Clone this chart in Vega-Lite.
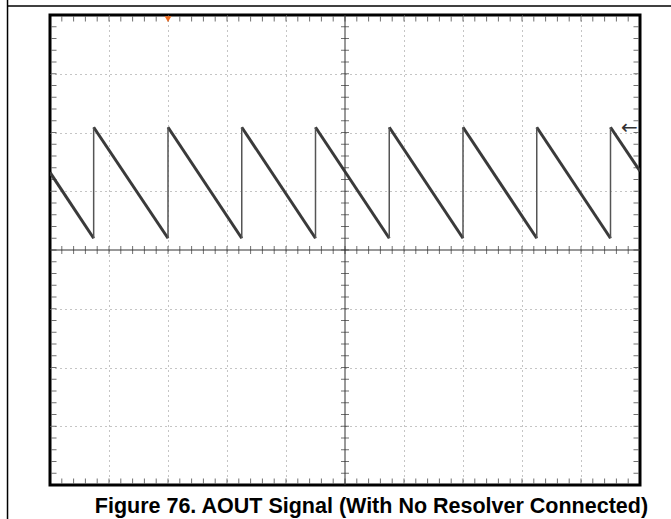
{
  "$schema": "https://vega.github.io/schema/vega-lite/v6.json",
  "width": 590,
  "height": 470,
  "autosize": {"type": "none"},
  "padding": {"left": 50, "top": 15, "right": 31, "bottom": 34},
  "background": "white",
  "view": {"stroke": "black", "strokeWidth": 3},
  "datasets": {
    "one": [{}],
    "caption": [{"label": "Figure 76. AOUT Signal (With No Resolver Connected)"}],
    "ramps": [
      {"seg": 0, "x": 0, "y": 1.32}, {"seg": 0, "x": 0.74, "y": 0.2},
      {"seg": 1, "x": 0.74, "y": 2.09}, {"seg": 1, "x": 2.0, "y": 0.2},
      {"seg": 2, "x": 2.0, "y": 2.09}, {"seg": 2, "x": 3.25, "y": 0.2},
      {"seg": 3, "x": 3.25, "y": 2.09}, {"seg": 3, "x": 4.5, "y": 0.2},
      {"seg": 4, "x": 4.5, "y": 2.09}, {"seg": 4, "x": 5.75, "y": 0.2},
      {"seg": 5, "x": 5.75, "y": 2.09}, {"seg": 5, "x": 7.0, "y": 0.2},
      {"seg": 6, "x": 7.0, "y": 2.09}, {"seg": 6, "x": 8.25, "y": 0.2},
      {"seg": 7, "x": 8.25, "y": 2.09}, {"seg": 7, "x": 9.5, "y": 0.2},
      {"seg": 8, "x": 9.5, "y": 2.09}, {"seg": 8, "x": 10, "y": 1.34}
    ],
    "edges": [
      {"x": 0.74, "lo": 0.2, "hi": 2.09}, {"x": 2.0, "lo": 0.2, "hi": 2.09},
      {"x": 3.25, "lo": 0.2, "hi": 2.09}, {"x": 4.5, "lo": 0.2, "hi": 2.09},
      {"x": 5.75, "lo": 0.2, "hi": 2.09}, {"x": 7.0, "lo": 0.2, "hi": 2.09},
      {"x": 8.25, "lo": 0.2, "hi": 2.09}, {"x": 9.5, "lo": 0.2, "hi": 2.09}
    ],
    "xt": [
      {"v": 0.2}, {"v": 0.4}, {"v": 0.6}, {"v": 0.8}, {"v": 1.0}, {"v": 1.2}, {"v": 1.4}, {"v": 1.6}, {"v": 1.8}, {"v": 2.0},
      {"v": 2.2}, {"v": 2.4}, {"v": 2.6}, {"v": 2.8}, {"v": 3.0}, {"v": 3.2}, {"v": 3.4}, {"v": 3.6}, {"v": 3.8}, {"v": 4.0},
      {"v": 4.2}, {"v": 4.4}, {"v": 4.6}, {"v": 4.8}, {"v": 5.0}, {"v": 5.2}, {"v": 5.4}, {"v": 5.6}, {"v": 5.8}, {"v": 6.0},
      {"v": 6.2}, {"v": 6.4}, {"v": 6.6}, {"v": 6.8}, {"v": 7.0}, {"v": 7.2}, {"v": 7.4}, {"v": 7.6}, {"v": 7.8}, {"v": 8.0},
      {"v": 8.2}, {"v": 8.4}, {"v": 8.6}, {"v": 8.8}, {"v": 9.0}, {"v": 9.2}, {"v": 9.4}, {"v": 9.6}, {"v": 9.8}
    ],
    "yt": [
      {"v": -3.8}, {"v": -3.6}, {"v": -3.4}, {"v": -3.2}, {"v": -3.0}, {"v": -2.8}, {"v": -2.6}, {"v": -2.4}, {"v": -2.2}, {"v": -2.0},
      {"v": -1.8}, {"v": -1.6}, {"v": -1.4}, {"v": -1.2}, {"v": -1.0}, {"v": -0.8}, {"v": -0.6}, {"v": -0.4}, {"v": -0.2}, {"v": 0.0},
      {"v": 0.2}, {"v": 0.4}, {"v": 0.6}, {"v": 0.8}, {"v": 1.0}, {"v": 1.2}, {"v": 1.4}, {"v": 1.6}, {"v": 1.8}, {"v": 2.0},
      {"v": 2.2}, {"v": 2.4}, {"v": 2.6}, {"v": 2.8}, {"v": 3.0}, {"v": 3.2}, {"v": 3.4}, {"v": 3.6}, {"v": 3.8}
    ]
  },
  "layer": [
    {
      "data": {"name": "ramps"},
      "mark": {"type": "line", "color": "#3a3a3a", "strokeWidth": 3, "clip": true},
      "encoding": {
        "x": {"field": "x", "type": "quantitative", "scale": {"domain": [0, 10], "nice": false, "zero": false},
          "axis": {"values": [1, 2, 3, 4, 6, 7, 8, 9], "grid": true, "gridDash": [1, 4], "gridColor": "#8a8a8a", "gridWidth": 1, "ticks": false, "labels": false, "domain": false, "title": null}},
        "y": {"field": "y", "type": "quantitative", "scale": {"domain": [-4, 4], "nice": false, "zero": false},
          "axis": {"values": [-3, -2, -1, 1, 2, 3], "grid": true, "gridDash": [1, 4], "gridColor": "#8a8a8a", "gridWidth": 1, "ticks": false, "labels": false, "domain": false, "title": null}},
        "detail": {"field": "seg"}
      }
    },
    {
      "data": {"name": "edges"},
      "mark": {"type": "rule", "color": "#555555", "strokeWidth": 1.5},
      "encoding": {
        "x": {"field": "x", "type": "quantitative", "scale": {"domain": [0, 10], "nice": false, "zero": false}},
        "y": {"field": "lo", "type": "quantitative", "scale": {"domain": [-4, 4], "nice": false, "zero": false}},
        "y2": {"field": "hi"}
      }
    },
    {
      "data": {"name": "one"},
      "mark": {"type": "rule", "color": "#333333", "strokeWidth": 1},
      "encoding": {"x": {"datum": 5, "type": "quantitative"}}
    },
    {
      "data": {"name": "one"},
      "mark": {"type": "rule", "color": "#333333", "strokeWidth": 1},
      "encoding": {"y": {"datum": 0, "type": "quantitative"}}
    },
    {
      "data": {"name": "xt"},
      "mark": {"type": "tick", "orient": "vertical", "color": "#333333", "thickness": 1, "size": 5},
      "encoding": {
        "x": {"field": "v", "type": "quantitative"},
        "y": {"datum": 3.93, "type": "quantitative"}
      }
    },
    {
      "data": {"name": "xt"},
      "mark": {"type": "tick", "orient": "vertical", "color": "#333333", "thickness": 1, "size": 5},
      "encoding": {
        "x": {"field": "v", "type": "quantitative"},
        "y": {"datum": -3.93, "type": "quantitative"}
      }
    },
    {
      "data": {"name": "xt"},
      "mark": {"type": "tick", "orient": "vertical", "color": "#333333", "thickness": 1, "size": 8},
      "encoding": {
        "x": {"field": "v", "type": "quantitative"},
        "y": {"datum": 0, "type": "quantitative"}
      }
    },
    {
      "data": {"name": "yt"},
      "mark": {"type": "tick", "orient": "horizontal", "color": "#333333", "thickness": 1, "size": 5},
      "encoding": {
        "y": {"field": "v", "type": "quantitative"},
        "x": {"datum": 0.068, "type": "quantitative"}
      }
    },
    {
      "data": {"name": "yt"},
      "mark": {"type": "tick", "orient": "horizontal", "color": "#333333", "thickness": 1, "size": 5},
      "encoding": {
        "y": {"field": "v", "type": "quantitative"},
        "x": {"datum": 9.932, "type": "quantitative"}
      }
    },
    {
      "data": {"name": "yt"},
      "mark": {"type": "tick", "orient": "horizontal", "color": "#333333", "thickness": 1, "size": 8},
      "encoding": {
        "y": {"field": "v", "type": "quantitative"},
        "x": {"datum": 5, "type": "quantitative"}
      }
    },
    {
      "data": {"name": "one"},
      "mark": {"type": "point", "shape": "triangle-down", "filled": true, "color": "#f26b1d", "size": 45, "opacity": 1},
      "encoding": {
        "x": {"datum": 2.0, "type": "quantitative"},
        "y": {"datum": 3.93, "type": "quantitative"}
      }
    },
    {
      "data": {"name": "one"},
      "mark": {"type": "text", "text": "←", "font": "DejaVu Sans", "fontSize": 20, "color": "#333333", "align": "center", "baseline": "middle"},
      "encoding": {
        "x": {"datum": 9.82, "type": "quantitative"},
        "y": {"datum": 2.08, "type": "quantitative"}
      }
    },
    {
      "data": {"name": "one"},
      "mark": {"type": "rule", "color": "black", "strokeWidth": 1.5, "clip": false},
      "encoding": {
        "x": {"datum": -0.72, "type": "quantitative"},
        "y": {"datum": -4.6, "type": "quantitative"},
        "y2": {"datum": 4.26}
      }
    },
    {
      "data": {"name": "one"},
      "mark": {"type": "rule", "color": "black", "strokeWidth": 1.5, "clip": false},
      "encoding": {
        "y": {"datum": 4.153, "type": "quantitative"},
        "x": {"datum": -0.72, "type": "quantitative"},
        "x2": {"datum": 10.55}
      }
    },
    {
      "data": {"name": "caption"},
      "mark": {"type": "text", "font": "Liberation Sans", "fontSize": 21.5, "fontWeight": "bold", "color": "black", "align": "right", "baseline": "alphabetic", "clip": false},
      "encoding": {
        "text": {"field": "label"},
        "x": {"datum": 10.137, "type": "quantitative"},
        "y": {"datum": -4.477, "type": "quantitative"}
      }
    }
  ]
}
